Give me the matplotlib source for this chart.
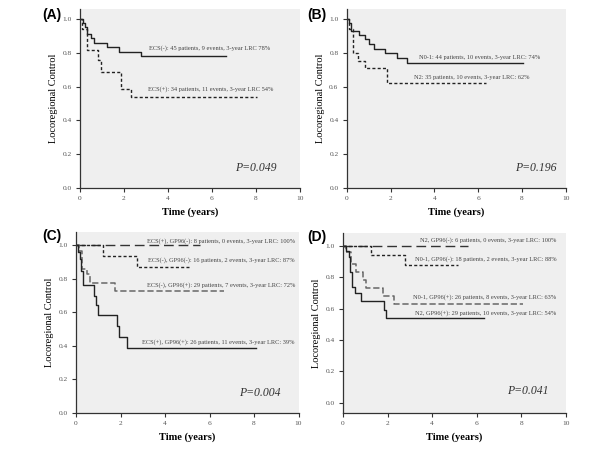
import matplotlib
matplotlib.use("Agg")
import matplotlib.pyplot as plt

plt.rcParams['font.family'] = ['Liberation Serif', 'DejaVu Serif']
plt.rcParams['lines.scale_dashes'] = False

# ---- data (times in years, locoregional control after each step) ----
# panel A
a_neg_t = [0, 0.15, 0.22, 0.3, 0.5, 0.62, 1.22, 1.76, 2.79, 6.65]
a_neg_s = [1.0, 0.98, 0.955, 0.91, 0.886, 0.86, 0.836, 0.807, 0.781, 0.781]
a_pos_t = [0, 0.1, 0.3, 0.8, 0.95, 1.85, 2.3, 8.06]
a_pos_s = [1.0, 0.94, 0.82, 0.76, 0.686, 0.587, 0.537, 0.537]

# panel B
b_n01_t = [0, 0.1, 0.21, 0.56, 0.82, 1.02, 1.25, 1.73, 2.28, 2.77, 8.06]
b_n01_s = [1.0, 0.98, 0.93, 0.905, 0.88, 0.85, 0.826, 0.797, 0.771, 0.741, 0.741]
b_n2_t = [0, 0.1, 0.28, 0.5, 0.82, 1.85, 6.35]
b_n2_s = [1.0, 0.94, 0.80, 0.753, 0.708, 0.623, 0.623]

# panel C
c_pn_t = [0, 5.57]
c_pn_s = [1.0, 1.0]
c_nn_t = [0, 1.21, 2.76, 5.15]
c_nn_s = [1.0, 0.938, 0.869, 0.869]
c_np_t = [0, 0.15, 0.28, 0.5, 0.65, 1.73, 6.65]
c_np_s = [1.0, 0.966, 0.862, 0.828, 0.776, 0.728, 0.728]
c_pp_t = [0, 0.1, 0.18, 0.24, 0.32, 0.8, 0.88, 0.97, 1.83, 1.92, 2.28, 8.08]
c_pp_s = [1.0, 0.96, 0.92, 0.85, 0.765, 0.70, 0.645, 0.585, 0.52, 0.455, 0.39, 0.39]

# panel D
d_n2n_t = [0, 5.6]
d_n2n_s = [1.0, 1.0]
d_n01n_t = [0, 1.24, 2.78, 5.18]
d_n01n_s = [1.0, 0.94, 0.877, 0.877]
d_n01p_t = [0, 0.15, 0.35, 0.6, 0.88, 1.02, 1.8, 2.28, 8.1]
d_n01p_s = [1.0, 0.96, 0.885, 0.83, 0.78, 0.733, 0.682, 0.627, 0.627]
d_n2p_t = [0, 0.15, 0.25, 0.3, 0.4, 0.55, 0.82, 1.85, 1.93, 6.35]
d_n2p_s = [1.0, 0.965, 0.93, 0.83, 0.74, 0.70, 0.65, 0.59, 0.54, 0.54]

SOLID = dict(color='#222222', lw=1.0, ls='-')
SHORT = dict(color='#222222', lw=1.0, ls=(0, (2.2, 1.6)))
LONG = dict(color='#333333', lw=1.0, ls=(0, (7, 3.5)))
MED = dict(color='#666666', lw=1.1, ls=(0, (4.5, 2)))

fig = plt.figure(figsize=(6, 4.5), dpi=100)

axA = fig.add_axes([0.1333, 0.5822, 0.3667, 0.3978])
axB = fig.add_axes([0.578, 0.5822, 0.365, 0.3978])
axC = fig.add_axes([0.1267, 0.0822, 0.3708, 0.4022])
axD = fig.add_axes([0.5717, 0.0822, 0.3713, 0.4000])


def style(ax, ylo, yhi):
    ax.set_facecolor('#efefef')
    ax.set_xlim(0, 10)
    ax.set_ylim(ylo, yhi)
    ax.set_xticks([0, 2, 4, 6, 8, 10])
    ax.set_yticks([0.0, 0.2, 0.4, 0.6, 0.8, 1.0])
    ax.set_yticklabels(['0.0', '0.2', '0.4', '0.6', '0.8', '1.0'])
    for sp in ['top', 'right']:
        ax.spines[sp].set_visible(False)
    for sp in ['left', 'bottom']:
        ax.spines[sp].set_color('#333333')
        ax.spines[sp].set_linewidth(0.9)
    ax.tick_params(direction='out', length=3, width=0.8, color='#333333',
                   labelsize=5.3, labelcolor='#555555', pad=3)
    ax.set_xlabel('Time (years)', fontsize=7.5, fontweight='bold', labelpad=4)
    ax.set_ylabel('Locoregional Control', fontsize=7.5, labelpad=3)


style(axA, 0, 1.06)
style(axB, 0, 1.06)
style(axC, 0, 1.08)
style(axD, -0.064, 1.08)

# A
axA.step(a_neg_t, a_neg_s, where='post', **SOLID)
axA.step(a_pos_t, a_pos_s, where='post', **SHORT)
axA.text(3.14, 0.83, 'ECS(-): 45 patients, 9 events, 3-year LRC 78%',
         fontsize=4.6, color='#444444', va='center')
axA.text(3.1, 0.585, 'ECS(+): 34 patients, 11 events, 3-year LRC 54%',
         fontsize=4.6, color='#444444', va='center')
axA.text(8.94, 0.117, 'P=0.049', fontsize=8.5, style='italic', ha='right', va='center', color='#333333')

# B
axB.step(b_n01_t, b_n01_s, where='post', **SOLID)
axB.step(b_n2_t, b_n2_s, where='post', **SHORT)
axB.text(3.3, 0.773, 'N0-1: 44 patients, 10 events, 3-year LRC: 74%',
         fontsize=4.6, color='#444444', va='center')
axB.text(3.07, 0.655, 'N2: 35 patients, 10 events, 3-year LRC: 62%',
         fontsize=4.6, color='#444444', va='center')
axB.text(9.56, 0.117, 'P=0.196', fontsize=8.5, style='italic', ha='right', va='center', color='#333333')

# C
axC.step(c_pn_t, c_pn_s, where='post', **LONG)
axC.step(c_nn_t, c_nn_s, where='post', **SHORT)
axC.step(c_np_t, c_np_s, where='post', **MED)
axC.step(c_pp_t, c_pp_s, where='post', **SOLID)
c_labels = ['ECS(+), GP96(-): 8 patients, 0 events, 3-year LRC: 100%',
            'ECS(-), GP96(-): 16 patients, 2 events, 3-year LRC: 87%',
            'ECS(-), GP96(+): 29 patients, 7 events, 3-year LRC: 72%',
            'ECS(+), GP96(+): 26 patients, 11 events, 3-year LRC: 39%']
for lab, y in zip(c_labels, [1.028, 0.91, 0.765, 0.426]):
    axC.text(9.84, y, lab, fontsize=4.6, color='#444444', ha='right', va='center')
axC.text(9.21, 0.118, 'P=0.004', fontsize=8.5, style='italic', ha='right', va='center', color='#333333')

# D
axD.step(d_n2n_t, d_n2n_s, where='post', **LONG)
axD.step(d_n01n_t, d_n01n_s, where='post', **SHORT)
axD.step(d_n01p_t, d_n01p_s, where='post', **MED)
axD.step(d_n2p_t, d_n2p_s, where='post', **SOLID)
d_labels = ['N2, GP96(-): 6 patients, 0 events, 3-year LRC: 100%',
            'N0-1, GP96(-): 18 patients, 2 events, 3-year LRC: 88%',
            'N0-1, GP96(+): 26 patients, 8 events, 3-year LRC: 63%',
            'N2, GP96(+): 29 patients, 10 events, 3-year LRC: 54%']
for lab, y in zip(d_labels, [1.036, 0.917, 0.67, 0.57]):
    axD.text(9.58, y, lab, fontsize=4.6, color='#444444', ha='right', va='center')
axD.text(9.22, 0.078, 'P=0.041', fontsize=8.5, style='italic', ha='right', va='center', color='#333333')

# panel letters
for lab, x, y in [('(A)', 52, 15), ('(B)', 317, 15), ('(C)', 52, 236), ('(D)', 317, 237)]:
    fig.text(x / 600, 1 - y / 450, lab, fontsize=10, fontweight='bold',
             family='Liberation Sans', ha='center', va='center')

fig.savefig('out.png', dpi=100)
